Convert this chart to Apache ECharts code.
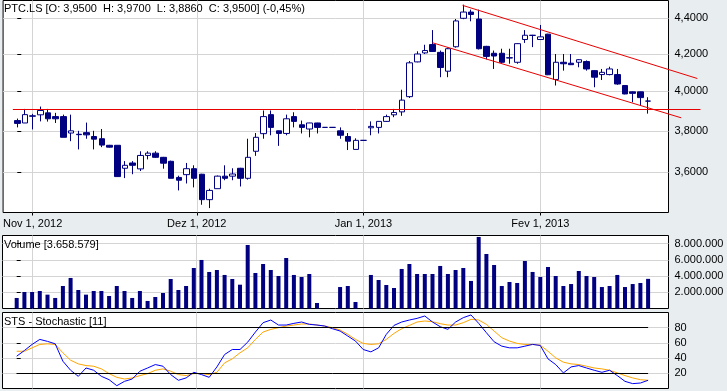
<!DOCTYPE html>
<html>
<head>
<meta charset="utf-8">
<script src="https://cdn.jsdelivr.net/npm/echarts@6/dist/echarts.min.js"></script>
<style>
html,body{margin:0;padding:0;background:#e8edf0;}
#c{width:727px;height:391px;}
</style>
</head>
<body>
<div id="c"></div>
<script>
// ---- data (index = trading day, 0 = 30 Oct 2012 ... 82 = 21 Feb 2013) ----
const open  = [3.851,3.839,3.875,3.880,3.890,3.871,3.871,3.789,3.783,3.791,
               3.772,3.761,3.729,3.729,3.619,3.644,3.616,3.680,3.691,3.671,
               3.652,3.576,3.589,3.617,3.591,3.474,3.524,3.582,3.582,3.619,
               3.572,3.700,3.786,3.881,3.800,3.787,3.871,3.830,3.809,3.839,
               3.817,3.817,3.800,3.772,3.709,3.753,3.815,3.817,3.847,3.880,
               3.895,3.973,4.157,4.206,4.252,4.209,4.107,4.240,4.400,4.436,
               4.396,4.242,4.204,4.204,4.178,4.155,4.280,4.304,4.280,4.310,
               4.063,4.155,4.150,4.155,4.159,4.110,4.089,4.089,4.089,4.031,
               3.998,3.998,3.950];
const high  = [3.861,3.910,3.885,3.922,3.910,3.890,3.881,3.881,3.800,3.841,
               3.800,3.809,3.731,3.729,3.653,3.653,3.700,3.700,3.700,3.673,
               3.655,3.584,3.644,3.633,3.593,3.524,3.585,3.633,3.619,3.621,
               3.761,3.789,3.902,3.902,3.801,3.881,3.893,3.851,3.840,3.840,
               3.817,3.817,3.817,3.789,3.763,3.753,3.847,3.848,3.881,3.910,
               4.009,4.162,4.215,4.251,4.333,4.219,4.235,4.396,4.479,4.450,
               4.450,4.245,4.219,4.229,4.229,4.260,4.333,4.306,4.362,4.312,
               4.200,4.200,4.200,4.172,4.165,4.112,4.119,4.131,4.119,4.032,
               4.000,3.999,3.970];
const low   = [3.817,3.839,3.807,3.847,3.846,3.839,3.768,3.749,3.709,3.761,
               3.709,3.720,3.718,3.578,3.573,3.591,3.606,3.661,3.668,3.617,
               3.572,3.516,3.548,3.530,3.451,3.436,3.524,3.563,3.563,3.534,
               3.566,3.678,3.761,3.778,3.726,3.778,3.817,3.787,3.768,3.787,
               3.817,3.817,3.761,3.706,3.709,3.753,3.778,3.787,3.845,3.868,
               3.875,3.966,4.155,4.200,4.212,4.075,4.075,4.235,4.395,4.383,
               4.225,4.171,4.119,4.147,4.147,4.147,4.261,4.238,4.278,4.086,
               4.031,4.110,4.140,4.128,4.110,4.022,4.060,4.085,4.035,3.985,
               3.944,3.927,3.886];
const close = [3.837,3.881,3.873,3.902,3.860,3.860,3.768,3.800,3.781,3.780,
               3.759,3.730,3.720,3.580,3.633,3.633,3.680,3.691,3.671,3.643,
               3.572,3.563,3.617,3.572,3.474,3.516,3.582,3.572,3.592,3.572,
               3.671,3.768,3.871,3.817,3.787,3.860,3.847,3.817,3.839,3.817,
               3.817,3.817,3.778,3.749,3.753,3.753,3.822,3.847,3.871,3.892,
               3.955,4.152,4.200,4.219,4.214,4.127,4.229,4.385,4.436,4.422,
               4.229,4.187,4.189,4.155,4.180,4.257,4.304,4.303,4.295,4.088,
               4.155,4.147,4.142,4.169,4.119,4.075,4.101,4.119,4.039,3.987,
               3.990,3.968,3.950];
const volume = [1300000,2040000,2040000,2160000,1710000,1300000,2780000,3770000,2280000,1710000,
                2160000,2160000,1540000,2780000,2160000,1300000,2160000,930000,1420000,1910000,
                3640000,2280000,2780000,5000000,5990000,4510000,4750000,4140000,3640000,2940000,
                7840000,4380000,5490000,4750000,4010000,6230000,4140000,3890000,4260000,680000,
                0,0,2650000,2780000,800000,0,4140000,3520000,2900000,2530000,
                4880000,5490000,4260000,4260000,4260000,5250000,4260000,4750000,5000000,3400000,
                8830000,6730000,5370000,2780000,3270000,3150000,5860000,4510000,3890000,5120000,
                4010000,2780000,3020000,4630000,4010000,3890000,2650000,2780000,4140000,2650000,
                3020000,3150000,3658579];
const stochK = [42.5,50,58,64.6,62,58.8,35.9,24,16,27,
                24,16,11.6,3.7,9.4,12.5,22.7,27,31.5,29.3,
                18.3,10.8,13.9,21.3,18.3,14.7,28.4,44.7,51.3,51.3,
                61,74.3,86.6,90.1,83.5,83.5,85.7,87.5,84.4,83.5,
                82.2,78.7,75.6,69,62.4,51.3,48.2,53.5,71.2,83,
                87.5,90.1,92.3,95.4,87.5,81.3,77.8,87.5,93.2,96.8,
                85.7,73.4,61.5,55.7,53.5,53.5,55.7,58,56.6,39,
                31.5,20.5,28.4,30.2,27,24,21.3,24,17,9.4,
                6.4,7.2,10.8];
const stochD = [49,49,53.5,58,58.8,58,47,37.2,32.4,30.2,
                29.3,25.8,19.6,14.7,12.5,13.9,17,19.6,24,25.8,
                22.7,18.3,17,19.6,19.6,18.3,21.3,33.7,39,47,
                53.5,64.6,74.3,77.8,80,82.2,83.5,84.9,84.9,83.5,
                82.2,80,76.9,71.2,64.6,59.3,58,58.8,64.6,72.5,
                78.7,83,87.5,88.8,87.9,85.3,83.5,83.5,86.6,91,
                90.1,84.4,75.6,66.8,62.4,59.3,58,58,57,49,
                40.3,34.6,32.4,31.5,29.3,27,25.8,24,20.5,17,
                13.9,11.6,10.8];
// trend lines: [index, price] end points
const trendFlat  = [[-0.5, 3.907], [88.8, 3.907]];
const trendUpper = [[57.9, 4.475], [88.4, 4.068]];
const trendLower = [[54.0, 4.262], [86.3, 3.865]];
const stochLevels = [80, 20];
// axis ticks
const dateTickPos = [2, 23.33, 45, 68];
const dateTickLabels = ['Nov 1, 2012', 'Dez 1, 2012', 'Jan 1, 2013', 'Fev 1, 2013'];
const priceTicks = [3.6, 3.8, 4.0, 4.2, 4.4];
const volumeTicks = [2000000, 4000000, 6000000, 8000000];
const stochTicks = [20, 40, 60, 80];
const mainTitle = 'PTC.LS [O: 3,9500  H: 3,9700  L: 3,8860  C: 3,9500] (-0,45%)';
const volTitle = 'Volume [3.658.579]';
const stochTitle = 'STS - Stochastic [11]';

// ---- layout ----
const X_MIN = -1.844, X_MAX = 84.65;
const Y_MIN = 3.4163, Y_MAX = 4.5033;
const PLOT_LEFT = 2.5, PLOT_RIGHT_EDGE = 668.5, OVERLAY_RIGHT_EDGE = 705.5;
const PX_PER_DAY = (PLOT_RIGHT_EDGE - PLOT_LEFT) / (X_MAX - X_MIN);
const X_MAX_OVERLAY = X_MIN + (OVERLAY_RIGHT_EDGE - PLOT_LEFT) / PX_PER_DAY;
const FONT = 'Liberation Sans, Arial, sans-serif';
const GRID_COLOR = '#d4d4d4';
const NAVY = '#000080';

const chart = echarts.init(document.getElementById('c'), null, {renderer: 'canvas'});

function dateLabel(v) {
  const i = dateTickPos.findIndex(p => Math.abs(p - v) < 0.01);
  return i >= 0 ? dateTickLabels[i] : '';
}
function dots(v) { return String(Math.round(v)).replace(/\B(?=(\d{3})+(?!\d))/g, '.'); }

const boxed = {show: true, backgroundColor: '#fff', borderColor: '#000', borderWidth: 1, containLabel: false};
const grids = [
  Object.assign({left: PLOT_LEFT, right: 727 - PLOT_RIGHT_EDGE, top: 0.5, height: 212}, boxed),
  Object.assign({left: PLOT_LEFT, right: 727 - PLOT_RIGHT_EDGE, top: 235.5, height: 73}, boxed),
  Object.assign({left: PLOT_LEFT, right: 727 - PLOT_RIGHT_EDGE, top: 312.5, height: 76}, boxed),
  // transparent overlay sharing the price scale, wider so trend lines run past the frame
  {left: PLOT_LEFT, right: 727 - OVERLAY_RIGHT_EDGE, top: 0.5, height: 212, show: false}
];

const xAxes = [0, 1, 2].map(i => ({
  type: 'value', gridIndex: i, min: X_MIN, max: X_MAX,
  axisLine: {show: false},
  axisTick: {show: i === 0, customValues: dateTickPos, length: 3, lineStyle: {color: '#000'}},
  axisLabel: {show: i === 0, customValues: dateTickPos, formatter: dateLabel, margin: 6,
              color: '#000', fontSize: 11, fontFamily: FONT},
  splitLine: {show: true, lineStyle: {color: GRID_COLOR, width: 1}}
}));
xAxes.push({type: 'value', gridIndex: 3, min: X_MIN, max: X_MAX_OVERLAY, show: false});

const yCommon = {
  position: 'right',
  axisLine: {show: false},
  splitLine: {show: true, lineStyle: {color: GRID_COLOR, width: 1}}
};
const yAxes = [
  Object.assign({}, yCommon, {
    type: 'log', logBase: 10, gridIndex: 0, min: Y_MIN, max: Y_MAX,
    axisTick: {show: true, customValues: priceTicks, length: 4, lineStyle: {color: '#000'}},
    axisLabel: {customValues: priceTicks, margin: 6, color: '#000', fontSize: 11, fontFamily: FONT,
                formatter: v => Number(v).toFixed(4).replace('.', ',')}
  }),
  Object.assign({}, yCommon, {
    type: 'value', gridIndex: 1, min: 0, max: 9010000,
    axisTick: {show: true, customValues: volumeTicks, length: 4, lineStyle: {color: '#000'}},
    axisLabel: {customValues: volumeTicks, margin: 6, color: '#000', fontSize: 11, fontFamily: FONT, formatter: dots}
  }),
  Object.assign({}, yCommon, {
    type: 'value', gridIndex: 2, min: 0, max: 100,
    axisTick: {show: true, customValues: stochTicks, length: 4, lineStyle: {color: '#000'}},
    axisLabel: {customValues: stochTicks, margin: 6, color: '#000', fontSize: 11, fontFamily: FONT}
  }),
  {type: 'log', logBase: 10, gridIndex: 3, min: Y_MIN, max: Y_MAX, show: false, splitLine: {show: false}}
];

const ohlc = open.map((o, i) => [i, o, close[i], low[i], high[i]]);
const redLine = (pts) => ({
  type: 'line', xAxisIndex: 3, yAxisIndex: 3, data: pts, clip: false, silent: true,
  symbol: 'none', lineStyle: {color: '#e80000', width: 1}, z: 5
});

const option = {
  backgroundColor: '#e8edf0',
  animation: false,
  textStyle: {fontFamily: FONT},
  title: [
    {text: mainTitle, left: 4, top: 3, padding: 0, textStyle: {fontSize: 11, fontWeight: 'normal', color: '#000', fontFamily: FONT}},
    {text: volTitle, left: 4, top: 239, padding: 0, textStyle: {fontSize: 11, fontWeight: 'normal', color: '#000', fontFamily: FONT}},
    {text: stochTitle, left: 4, top: 316, padding: 0, textStyle: {fontSize: 11, fontWeight: 'normal', color: '#000', fontFamily: FONT}}
  ],
  grid: grids,
  xAxis: xAxes,
  yAxis: yAxes,
  series: [
    {
      type: 'candlestick', xAxisIndex: 0, yAxisIndex: 0,
      data: ohlc, encode: {x: 0, y: [1, 2, 3, 4]},
      barWidth: 6,
      itemStyle: {color: '#ffffff', color0: NAVY, borderColor: NAVY, borderColor0: NAVY, borderWidth: 1}
    },
    redLine(trendFlat), redLine(trendUpper), redLine(trendLower),
    {
      type: 'bar', xAxisIndex: 1, yAxisIndex: 1,
      data: volume.map((v, i) => [i, v]), barWidth: 4,
      itemStyle: {color: NAVY}
    },
    {
      type: 'line', xAxisIndex: 2, yAxisIndex: 2,
      data: stochD.map((v, i) => [i, v]), symbol: 'none',
      lineStyle: {color: '#ffa500', width: 1}
    },
    {
      type: 'line', xAxisIndex: 2, yAxisIndex: 2,
      data: stochK.map((v, i) => [i, v]), symbol: 'none',
      lineStyle: {color: '#0000ff', width: 1},
      markLine: {
        silent: true, symbol: 'none', label: {show: false},
        lineStyle: {color: '#000', width: 1, type: 'solid'},
        data: stochLevels.map(l => [{coord: [0, l]}, {coord: [ohlc.length - 1, l]}])
      }
    }
  ]
};
chart.setOption(option);
</script>
</body>
</html>
